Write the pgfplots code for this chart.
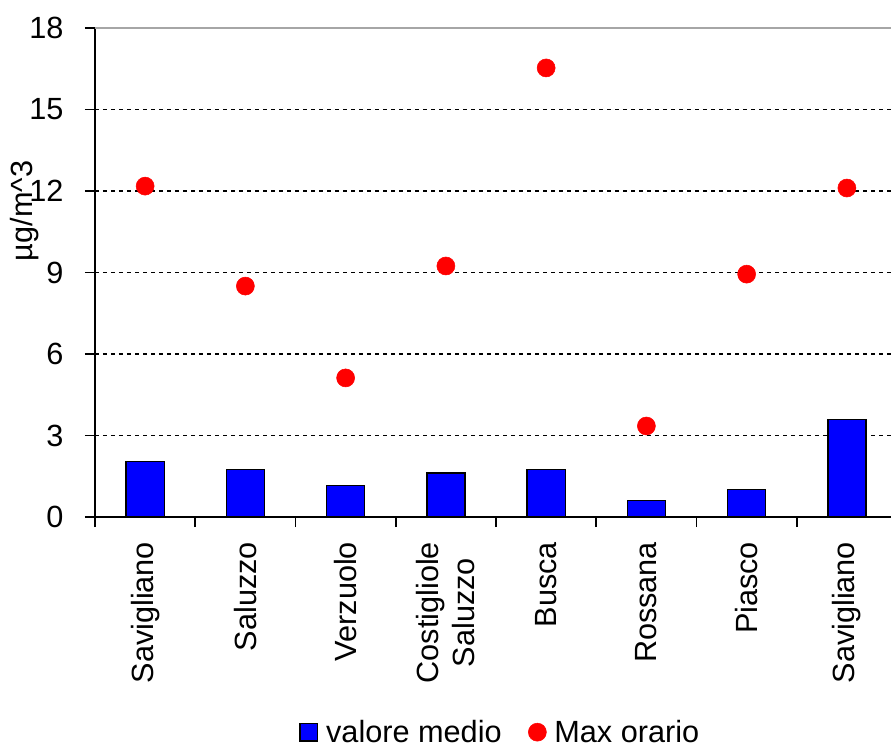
\documentclass[border=0pt]{standalone}
\usepackage{pgfplots}
\pgfplotsset{compat=1.18}
\usepackage{fontspec}
\setmainfont{Liberation Sans}
\begin{document}
\begin{tikzpicture}
\begin{axis}[
  at={(0,0)}, anchor=south west,
  scale only axis,
  width=597pt, height=366.75pt,
  xmin=-0.5, xmax=7.44,
  ymin=0, ymax=18,
  axis x line*=bottom, axis y line*=left,
  axis line style={black, line width=1.4pt, -},
  font=\fontsize{23}{27}\selectfont,
  /pgf/number format/assume math mode=true,
  tick align=outside,
  ytick={0,3,6,9,12,15},
  extra y ticks={18},
  extra y tick labels={18},
  extra y tick style={major grid style={draw=gray!70, solid, line width=1.5pt}},
  ymajorgrids,
  major grid style={black, dash pattern=on 3pt off 3pt, line width=1.2pt},
  major tick length=7.5pt,
  minor tick length=7.5pt,
  every tick/.style={black, line width=1.4pt},
  xtick={0,1,2,3,4,5,6,7},
  xticklabels={Savigliano,Saluzzo,Verzuolo,{Costigliole\\Saluzzo},Busca,Rossana,Piasco,Savigliano},
  minor xtick={-0.5,0.5,1.5,2.5,3.5,4.5,5.5,6.5},
  major x tick style={draw=none},
  xticklabel style={rotate=90, anchor=east, inner xsep=11pt, inner ysep=0pt, align=center},
  yticklabel style={anchor=east, inner xsep=16pt},
  ylabel={µg/m\textasciicircum 3},
  ylabel style={at={(axis description cs:-0.0879,0.626)}, anchor=center},
  legend columns=2,
  legend style={draw=none, at={(axis description cs:0.513,-0.44)}, anchor=center, fill=none,
    nodes={inner xsep=6pt},
    /tikz/every even column/.append style={column sep=14pt}},
  clip=false,
]
\addplot[ybar, bar width=0.38, fill=blue, draw=black, line width=1pt,
  area legend,
  legend image code/.code={\draw[fill=blue, draw=black, line width=1pt] (0pt,-6.5pt) rectangle (13pt,6.5pt);}]
  coordinates {(0,2.05) (1,1.76) (2,1.17) (3,1.62) (4,1.76) (5,0.60) (6,1.02) (7,3.59)};
\addlegendentry{valore medio}
\addplot[only marks, mark=*, mark size=6.75pt, color=red, mark options={fill=red, draw=red}]
  coordinates {(0,12.18) (1,8.50) (2,5.12) (3,9.24) (4,16.53) (5,3.35) (6,8.94) (7,12.11)};
\addlegendentry{Max orario}
\end{axis}
\pgfresetboundingbox
\path[use as bounding box] (-71.25pt,-172.5pt) rectangle (597pt,387.75pt);
\end{tikzpicture}
\end{document}
